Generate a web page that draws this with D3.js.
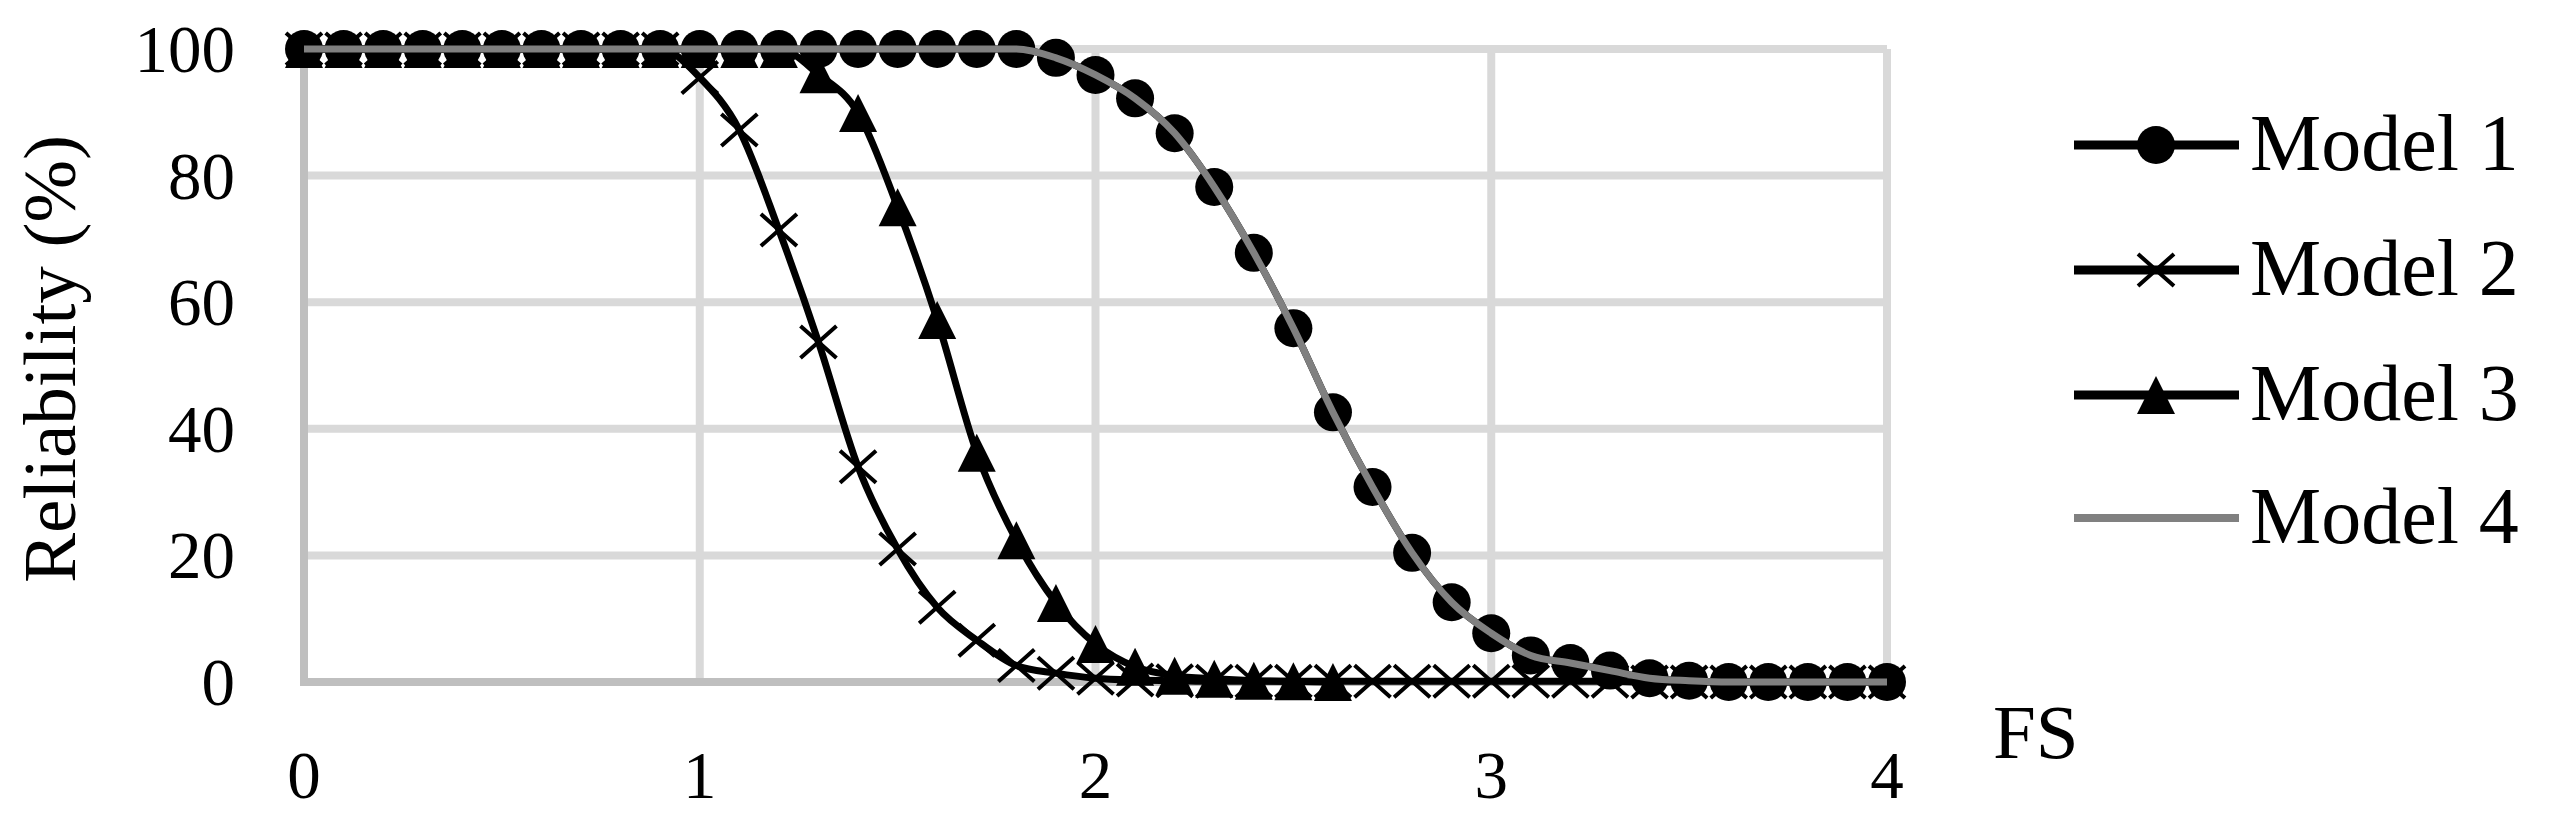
<!DOCTYPE html>
<html>
<head>
<meta charset="utf-8">
<script src="https://cdn.jsdelivr.net/npm/d3@7"></script>
<style>
  body { margin: 0; background: #fff; }
  text { font-family: "Liberation Serif", "DejaVu Serif", serif; fill: #000; }
</style>
</head>
<body>
<script>
// FS values (x categories)
var fs = [0, 0.1, 0.2, 0.3, 0.4, 0.5, 0.6, 0.7, 0.8, 0.9,
          1.0, 1.1, 1.2, 1.3, 1.4, 1.5, 1.6, 1.7, 1.8, 1.9,
          2.0, 2.1, 2.2, 2.3, 2.4, 2.5, 2.6, 2.7, 2.8, 2.9,
          3.0, 3.1, 3.2, 3.3, 3.4, 3.5, 3.6, 3.7, 3.8, 3.9, 4.0];

// reliability (%)
var model1 = [100, 100, 100, 100, 100, 100, 100, 100, 100, 100,
              100, 100, 100, 100, 100, 100, 100, 100, 100, 98.6,
              95.9, 92.2, 86.7, 78.2, 67.8, 55.9, 42.6, 30.8, 20.4, 12.6,
              7.7, 4.2, 3.0, 1.8, 0.6, 0.2, 0, 0, 0, 0, 0];
var model2 = [100, 100, 100, 100, 100, 100, 100, 100, 100, 100,
              95.5, 87.2, 71.4, 53.7, 34.0, 21.0, 11.8, 6.6, 2.6, 1.4,
              0.6, 0.3, 0.2, 0.1, 0.1, 0.1, 0.1, 0.1, 0.1, 0.1,
              0.1, 0.1, 0.1, 0.1, 0, 0, 0, 0, 0, 0, 0];
var model3 = [100, 100, 100, 100, 100, 100, 100, 100, 100, 100,
              100, 100, 100, 96.0, 89.9, 75.0, 57.2, 36.2, 22.4, 12.5,
              6.0, 2.4, 1.0, 0.5, 0.2, 0.1, 0];
var model4 = [100, 100, 100, 100, 100, 100, 100, 100, 100, 100,
              100, 100, 100, 100, 100, 100, 100, 100, 100, 98.6,
              95.9, 92.2, 86.7, 78.2, 67.8, 55.9, 42.6, 30.8, 20.4, 12.6,
              7.7, 4.2, 3.0, 1.8, 0.6, 0.2, 0, 0, 0, 0, 0];

var seriesNames = ['Model 1', 'Model 2', 'Model 3', 'Model 4'];
var xTicks = [0, 1, 2, 3, 4];
var yTicks = [0, 20, 40, 60, 80, 100];

var width = 2550, height = 824;
var svg = d3.select('body').append('svg')
  .attr('width', width)
  .attr('height', height);

var x = d3.scaleLinear().domain([0, 4]).range([304, 1887]);
var y = d3.scaleLinear().domain([0, 100]).range([682, 49]);

// gridlines
svg.append('g').selectAll('line')
  .data(yTicks.filter(d => d > 0))
  .enter().append('line')
  .attr('x1', x(0)).attr('x2', x(4))
  .attr('y1', d => y(d)).attr('y2', d => y(d))
  .attr('stroke', '#d9d9d9').attr('stroke-width', 8);

svg.append('g').selectAll('line')
  .data(xTicks.filter(d => d > 0))
  .enter().append('line')
  .attr('x1', d => x(d)).attr('x2', d => x(d))
  .attr('y1', y(100)).attr('y2', y(0))
  .attr('stroke', '#d9d9d9').attr('stroke-width', 8);

// axis lines
svg.append('line')
  .attr('x1', x(0)).attr('x2', x(0))
  .attr('y1', y(100) - 4).attr('y2', y(0) + 4)
  .attr('stroke', '#bfbfbf').attr('stroke-width', 8);
svg.append('line')
  .attr('x1', x(0)).attr('x2', x(4) + 4)
  .attr('y1', y(0)).attr('y2', y(0))
  .attr('stroke', '#bfbfbf').attr('stroke-width', 8);

// tick labels
svg.append('g').selectAll('text')
  .data(yTicks)
  .enter().append('text')
  .attr('x', 235)
  .attr('y', d => y(d) + 23)
  .attr('text-anchor', 'end')
  .style('font-size', '67px')
  .text(d => d);

svg.append('g').selectAll('text')
  .data(xTicks)
  .enter().append('text')
  .attr('x', d => x(d))
  .attr('y', 798)
  .attr('text-anchor', 'middle')
  .style('font-size', '67px')
  .text(d => d);

// axis titles
svg.append('text')
  .attr('transform', 'translate(75,359) rotate(-90)')
  .attr('text-anchor', 'middle')
  .style('font-size', '75px')
  .text('Reliability (%)');

svg.append('text')
  .attr('x', 1993).attr('y', 758)
  .style('font-size', '77px')
  .text('FS');

// markers
var R = 19;
function circle(g) {
  g.append('circle').attr('r', R).attr('fill', '#000');
}
function cross(g) {
  g.append('path')
    .attr('d', 'M-18,-16L18,16M-18,16L18,-16')
    .attr('stroke', '#000').attr('stroke-width', 4).attr('fill', 'none');
}
function triangle(g) {
  g.append('path')
    .attr('d', 'M0,-19L19,19L-19,19Z')
    .attr('fill', '#000');
}

var series = [
  { name: seriesNames[0], values: model1, color: '#000', marker: circle },
  { name: seriesNames[1], values: model2, color: '#000', marker: cross },
  { name: seriesNames[2], values: model3, color: '#000', marker: triangle },
  { name: seriesNames[3], values: model4, color: '#808080', marker: null }
];

var line = d3.line()
  .x(d => x(d[0]))
  .y(d => y(d[1]))
  .curve(d3.curveMonotoneX);

series.forEach(function(s) {
  var pts = s.values.map((v, i) => [fs[i], v]);
  var g = svg.append('g');
  g.append('path')
    .datum(pts)
    .attr('d', line)
    .attr('fill', 'none')
    .attr('stroke', s.color)
    .attr('stroke-width', 7);
  if (s.marker) {
    g.selectAll('g.m')
      .data(pts)
      .enter().append('g')
      .attr('class', 'm')
      .attr('transform', d => 'translate(' + x(d[0]) + ',' + y(d[1]) + ')')
      .each(function() { s.marker(d3.select(this)); });
  }
});

// legend
var legendY = [145, 270, 395, 518];
var legend = svg.append('g');
series.forEach(function(s, i) {
  var g = legend.append('g').attr('transform', 'translate(0,' + legendY[i] + ')');
  g.append('line')
    .attr('x1', 2074).attr('x2', 2239)
    .attr('stroke', s.color).attr('stroke-width', s.marker ? 9 : 8);
  if (s.marker) {
    var m = g.append('g').attr('transform', 'translate(2156,0)');
    s.marker(m);
  }
  g.append('text')
    .attr('x', 2250).attr('y', 25)
    .style('font-size', '80px')
    .text(s.name);
});
</script>
</body>
</html>
